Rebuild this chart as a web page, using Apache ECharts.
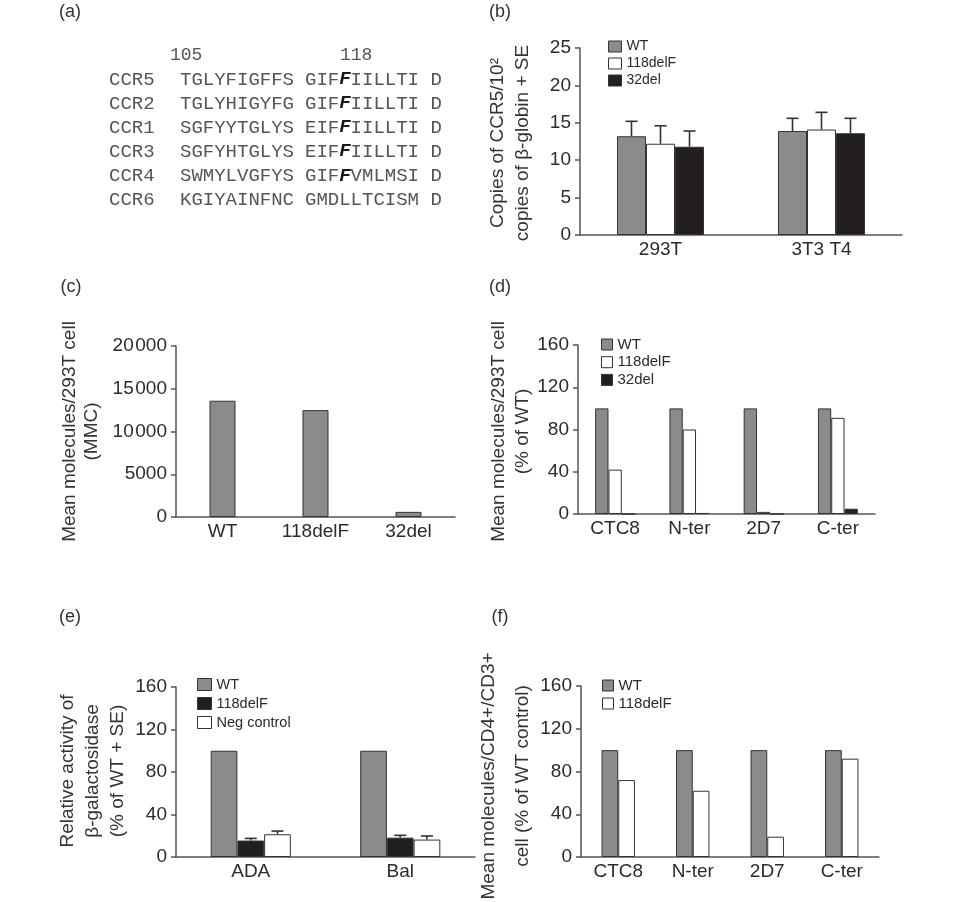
<!DOCTYPE html>
<html>
<head>
<meta charset="utf-8">
<script src="https://cdn.jsdelivr.net/npm/echarts@6/dist/echarts.min.js"></script>
<style>
html,body{margin:0;padding:0;background:#fff;}
#chart{width:960px;height:902px;}
</style>
</head>
<body>
<div id="chart"></div>
<script>
// ---------- (a) sequence alignment ----------
const receptors = ['CCR5', 'CCR2', 'CCR1', 'CCR3', 'CCR4', 'CCR6'];
const seqLeft = ['TGLYFIGFFS', 'TGLYHIGYFG', 'SGFYYTGLYS', 'SGFYHTGLYS', 'SWMYLVGFYS', 'KGIYAINFNC'];
const seqRight = ['GIFFIILLTI', 'GIFFIILLTI', 'EIFFIILLTI', 'EIFFIILLTI', 'GIFFVMLMSI', 'GMDLLTCISM'];
const seqEnd = ['D', 'D', 'D', 'D', 'D', 'D'];
const markResidue = [true, true, true, true, true, false];
const residueLabels = ['105', '118'];

// ---------- (b) ----------
const bCategories = ['293T', '3T3 T4'];
const bNames = ['WT', '118delF', '32del'];
const bWT = [13.2, 13.9];
const b118 = [12.2, 14.1];
const b32 = [11.8, 13.6];
const bWTErr = [2.0, 1.7];
const b118Err = [2.4, 2.3];
const b32Err = [2.1, 2.0];
const bTitle = ['Copies of CCR5/10\u00B2', 'copies of \u03B2-globin + SE'];

// ---------- (c) ----------
const cCategories = ['WT', '118delF', '32del'];
const cValues = [13600, 12500, 600];
const cTitle = ['Mean molecules/293T cell', '(MMC)'];

// ---------- (d) ----------
const dCategories = ['CTC8', 'N-ter', '2D7', 'C-ter'];
const dNames = ['WT', '118delF', '32del'];
const dWT = [100, 100, 100, 100];
const d118 = [42, 80, 2, 91];
const d32 = [0, 1, 0, 5];
const dTitle = ['Mean molecules/293T cell', '(% of WT)'];

// ---------- (e) ----------
const eCategories = ['ADA', 'Bal'];
const eNames = ['WT', '118delF', 'Neg control'];
const eWT = [100, 100];
const e118 = [15.5, 18.2];
const eNeg = [21.4, 16.4];
const e118Err = [2.0, 2.2];
const eNegErr = [3.0, 3.4];
const eTitle = ['Relative activity of', '\u03B2-galactosidase', '(% of WT + SE)'];

// ---------- (f) ----------
const fCategories = ['CTC8', 'N-ter', '2D7', 'C-ter'];
const fNames = ['WT', '118delF'];
const fWT = [100, 100, 100, 100];
const f118 = [72, 62, 19, 92];
const fTitle = ['Mean molecules/CD4+/CD3+', 'cell (% of WT control)'];

const panelLetters = ['(a)', '(b)', '(c)', '(d)', '(e)', '(f)'];

// ---------- styling ----------
const FONT = 'Liberation Sans, Arial, Helvetica, sans-serif';
const MONO = 'Liberation Mono, Courier New, monospace';
const GRAY = '#8b8b8d', BLACK = '#231f20', WHITE = '#ffffff', EDGE = '#333333';
const AX = '#555555', TXT = '#2b2b2b';

function xAxisCfg(g, cats) {
  return {
    type: 'category', gridIndex: g, data: cats,
    axisLine: { lineStyle: { color: AX, width: 1.5 } },
    axisTick: { show: false },
    axisLabel: { color: TXT, fontSize: 19, margin: 5, fontFamily: FONT },
    splitLine: { show: false }
  };
}
function yAxisCfg(g, max, interval, fmt) {
  return {
    type: 'value', gridIndex: g, min: 0, max: max, interval: interval,
    axisLine: { show: true, lineStyle: { color: AX, width: 1.5 } },
    axisTick: { show: true, length: 5, lineStyle: { color: AX, width: 1.5 } },
    axisLabel: { color: TXT, fontSize: 19, margin: 9, fontFamily: FONT, formatter: fmt },
    splitLine: { show: false }
  };
}
function bar(g, name, data, color, width) {
  return {
    type: 'bar', name: name, xAxisIndex: g, yAxisIndex: g, data: data,
    barWidth: width, barGap: '0%', silent: true,
    itemStyle: { color: color, borderColor: EDGE, borderWidth: 1 }
  };
}
function errBars(g, values, errs, idx, n, barW) {
  return {
    type: 'custom', xAxisIndex: g, yAxisIndex: g, silent: true, z: 3,
    data: values.map((v, i) => [i, v, v + errs[i]]),
    renderItem: function (params, api) {
      const base = api.coord([api.value(0), api.value(1)]);
      const top = api.coord([api.value(0), api.value(2)]);
      const x = base[0] + (idx - (n - 1) / 2) * barW;
      const st = { stroke: EDGE, lineWidth: 1.6 };
      return {
        type: 'group', children: [
          { type: 'line', shape: { x1: x, y1: base[1], x2: x, y2: top[1] }, style: st },
          { type: 'line', shape: { x1: x - 6, y1: top[1], x2: x + 6, y2: top[1] }, style: st }
        ]
      };
    }
  };
}
function legendCfg(left, top, names, colors, iw, ih, fs, lh, gap) {
  return {
    left: left, top: top, orient: 'vertical', selectedMode: false,
    itemWidth: iw, itemHeight: ih, itemGap: gap, icon: 'rect', padding: 0,
    textStyle: { fontSize: fs, color: TXT, fontFamily: FONT, lineHeight: lh },
    data: names.map((n, i) => ({ name: n, icon: 'rect',
      itemStyle: { color: colors[i], borderColor: EDGE, borderWidth: 1 } }))
  };
}
function vTitle(lines, xs, y) {
  return lines.map((t, i) => ({
    type: 'text', x: xs[i], y: y, rotation: Math.PI / 2, silent: true,
    style: { text: t, fill: '#333', font: '19px ' + FONT,
      textAlign: 'center', textVerticalAlign: 'middle', align: 'center', verticalAlign: 'middle' }
  }));
}
function thinThousands(v) {
  const s = String(v);
  return v >= 10000 ? s.slice(0, s.length - 3) + '\u200A' + s.slice(-3) : s;
}

// ---------- graphic (alignment, panel letters, axis titles) ----------
const graphics = [];
const letterPos = [[70, 12], [500, 12], [71, 287], [500, 287], [70, 617], [500, 617]];
panelLetters.forEach((t, i) => graphics.push({
  type: 'text', x: letterPos[i][0], y: letterPos[i][1], silent: true,
  style: { text: t, fill: '#333', font: '18px ' + FONT, textAlign: 'center', textVerticalAlign: 'middle', align: 'center', verticalAlign: 'middle' }
}));
const residueX = [170, 340];
residueLabels.forEach((t, i) => graphics.push({
  type: 'text', x: residueX[i], y: 55, silent: true,
  style: { text: t, fill: '#555', font: '18px ' + MONO, textVerticalAlign: 'middle', verticalAlign: 'middle' }
}));
const rowY = [79.5, 103.5, 127.5, 151.5, 176, 200];
receptors.forEach((r, i) => {
  const y = rowY[i];
  graphics.push({ type: 'text', x: 109, y: y, silent: true,
    style: { text: r, fill: '#555', font: '19px ' + MONO, textVerticalAlign: 'middle', verticalAlign: 'middle' } });
  graphics.push({ type: 'text', x: 180, y: y, silent: true,
    style: { text: seqLeft[i], fill: '#555', font: '19px ' + MONO, textVerticalAlign: 'middle', verticalAlign: 'middle' } });
  const s = seqRight[i];
  const txt = markResidue[i]
    ? '{n|' + s.slice(0, 3) + '}{b|' + s[3] + '}{n|' + s.slice(4) + ' ' + seqEnd[i] + '}'
    : '{n|' + s + ' ' + seqEnd[i] + '}';
  graphics.push({ type: 'text', x: 305, y: y, silent: true,
    style: { text: txt, fill: '#555', textVerticalAlign: 'middle', verticalAlign: 'middle',
      font: '19px ' + MONO,
      rich: {
        n: { fontFamily: MONO, fontSize: 19, fill: '#555', color: '#555' },
        b: { fontFamily: MONO, fontSize: 19, fill: '#1a1a1a', color: '#1a1a1a', fontWeight: 'bold', fontStyle: 'italic' }
      } } });
});
graphics.push(...vTitle(bTitle, [498, 522.5], 143));
graphics.push(...vTitle(cTitle, [69.5, 92], 431.5));
graphics.push(...vTitle(dTitle, [499, 522.5], 431.5));
graphics.push(...vTitle(eTitle, [68, 92.5, 117.5], 771));
graphics.push(...vTitle(fTitle, [489, 523], 776));

// ---------- option ----------
const option = {
  backgroundColor: '#ffffff',
  animation: false,
  grid: [
    { left: 580, right: 58, top: 48, bottom: 667 },   // b
    { left: 176, right: 505, top: 346, bottom: 385 },  // c
    { left: 578, right: 85, top: 345, bottom: 388 },   // d
    { left: 176, right: 485, top: 687, bottom: 45 },   // e
    { left: 581, right: 81, top: 686, bottom: 45 }     // f
  ],
  xAxis: [
    xAxisCfg(0, bCategories),
    xAxisCfg(1, cCategories),
    xAxisCfg(2, dCategories),
    xAxisCfg(3, eCategories),
    xAxisCfg(4, fCategories)
  ],
  yAxis: [
    yAxisCfg(0, 25, 5),
    yAxisCfg(1, 20000, 5000, thinThousands),
    yAxisCfg(2, 160, 40),
    yAxisCfg(3, 160, 40),
    yAxisCfg(4, 160, 40)
  ],
  legend: [
    legendCfg(608, 39.5, bNames, [GRAY, WHITE, BLACK], 13, 11, 14, 12, 3),
    legendCfg(601, 337, dNames, [GRAY, WHITE, BLACK], 11, 11, 15, 11, 2.7),
    legendCfg(197, 677, eNames, [GRAY, BLACK, WHITE], 14, 12, 14.5, 14, 4),
    legendCfg(602, 678, fNames, [GRAY, WHITE], 11, 11, 15, 11, 3)
  ],
  series: [
    // b
    bar(0, bNames[0], bWT, GRAY, 29),
    bar(0, bNames[1], b118, WHITE, 29),
    bar(0, bNames[2], b32, BLACK, 29),
    errBars(0, bWT, bWTErr, 0, 3, 29),
    errBars(0, b118, b118Err, 1, 3, 29),
    errBars(0, b32, b32Err, 2, 3, 29),
    // c
    bar(1, 'MMC', cValues, GRAY, 26),
    // d
    bar(2, dNames[0], dWT, GRAY, 13.3),
    bar(2, dNames[1], d118, WHITE, 13.3),
    bar(2, dNames[2], d32, BLACK, 13.3),
    // e
    bar(3, eNames[0], eWT, GRAY, 26.7),
    bar(3, eNames[1], e118, BLACK, 26.7),
    bar(3, eNames[2], eNeg, WHITE, 26.7),
    errBars(3, e118, e118Err, 1, 3, 26.7),
    errBars(3, eNeg, eNegErr, 2, 3, 26.7),
    // f
    bar(4, fNames[0], fWT, GRAY, 16.7),
    bar(4, fNames[1], f118, WHITE, 16.7)
  ],
  graphic: graphics
};

const chart = echarts.init(document.getElementById('chart'), null, { renderer: 'canvas' });
chart.setOption(option);
</script>
</body>
</html>
